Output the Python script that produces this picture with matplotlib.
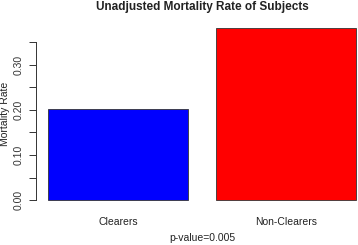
import matplotlib
matplotlib.use("Agg")
import matplotlib.pyplot as plt

groups = ["Clearers", "Non-Clearers"]
rates = [0.203, 0.382]
colors = ["#0000FF", "#FF0000"]
tick_vals = [0.0, 0.05, 0.10, 0.15, 0.20, 0.25, 0.30, 0.35]
tick_labels = ["0.00", "", "0.10", "", "0.20", "", "0.30", ""]

plt.rcParams["font.family"] = ["Liberation Sans", "DejaVu Sans"]

W, H = 358, 245
fig = plt.figure(figsize=(W / 100, H / 100), dpi=100)
# R barplot layout: bars of width 1 with space 0.2, axis region padded 4%
left, right, bottom, top = 35.7, 368, 207, 21
ax = fig.add_axes([left / W, (H - bottom) / H, (right - left) / W, (bottom - top) / H])

xs = [0.7, 1.9]
ax.bar(xs, rates, width=1.0, color=colors, edgecolor="#333333", linewidth=0.6)
ymax = max(rates)
ax.set_xlim(0.2 - 0.088, 2.4 + 0.088)
ax.set_ylim(-0.04 * ymax, 1.04 * ymax)

for s in ["top", "right", "bottom"]:
    ax.spines[s].set_visible(False)
ax.spines["left"].set_bounds(0, 0.35)
ax.spines["left"].set_linewidth(0.7)
ax.spines["left"].set_color("#333333")
ax.set_yticks(tick_vals)
ax.set_yticklabels(tick_labels, rotation=90, va="center", fontsize=7.5, color="#333333")
ax.tick_params(axis="y", length=5, width=0.7, color="#333333", pad=4)
ax.set_xticks(xs)
ax.set_xticklabels(groups, fontsize=7.5, color="#222222")
ax.tick_params(axis="x", length=0, pad=7)
ax.set_ylabel("Mortality Rate", fontsize=7.5, color="#222222", labelpad=2)

fig.text(202 / W, 1 - 7 / H, "Unadjusted Mortality Rate of Subjects",
         ha="center", va="center", fontsize=8.5, fontweight="bold", color="#222222")
fig.text(202 / W, 1 - 238 / H, "p-value=0.005", ha="center", va="center",
         fontsize=7.5, color="#222222")

fig.savefig("out.png", dpi=100)
